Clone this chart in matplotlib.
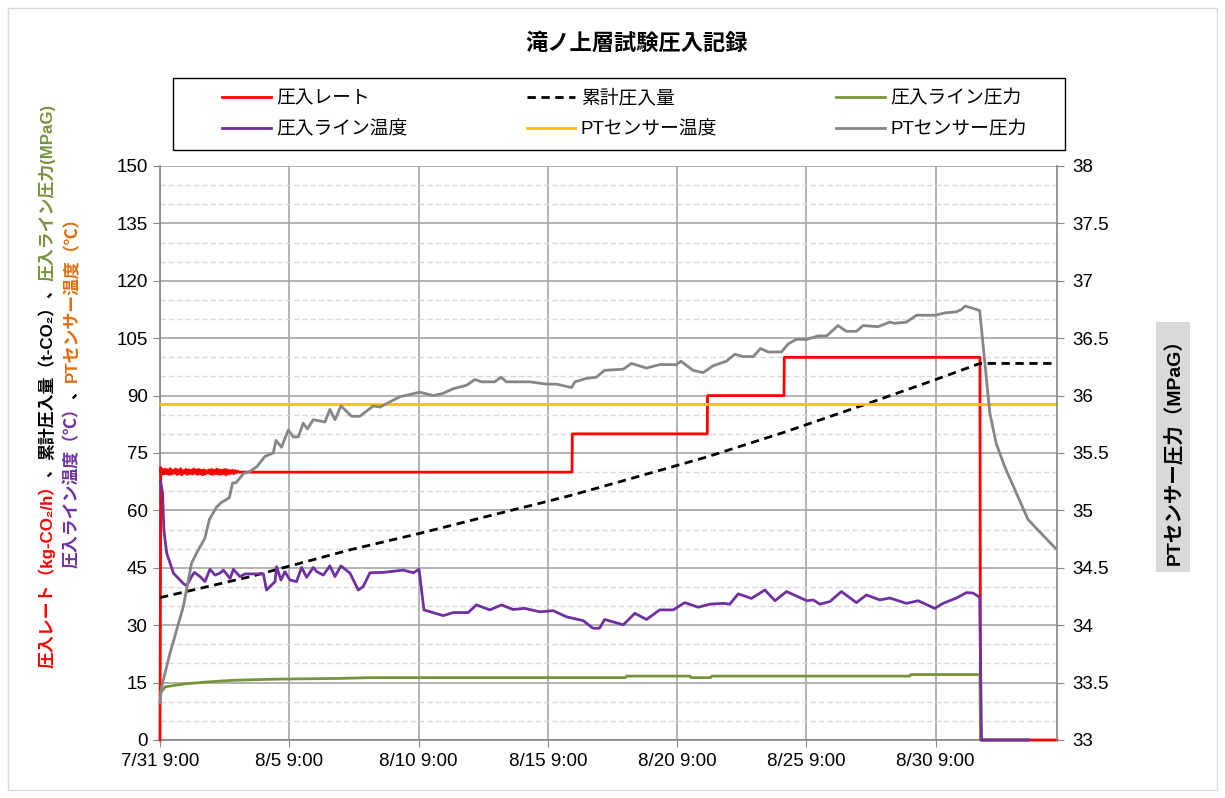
import numpy as np
import matplotlib.pyplot as plt
from matplotlib.patches import Rectangle
from matplotlib.ticker import MultipleLocator, FormatStrFormatter

plt.rcParams['font.family'] = ['Liberation Sans', 'Noto Sans CJK JP', 'DejaVu Sans']

title = "滝ノ上層試験圧入記録"
xtick_days = [0, 5, 10, 15, 20, 25, 30]
xtick_labels = ["7/31 9:00", "8/5 9:00", "8/10 9:00", "8/15 9:00",
                "8/20 9:00", "8/25 9:00", "8/30 9:00"]
x_end = 34.7

# (days since 7/31 9:00, value)
rate = [(0.0, 0), (0.03, 71.2), (0.05, 69.4), (0.1, 70.7), (0.15, 69.5), (0.2, 70.8),
        (0.25, 69.6), (0.3, 70.6), (0.35, 69.4), (0.4, 70.9), (0.45, 69.5), (0.5, 70.5),
        (0.55, 69.7), (0.6, 70.8), (0.65, 69.4), (0.7, 70.6), (0.75, 69.6), (0.8, 70.9),
        (0.85, 69.3), (0.9, 70.4), (0.95, 69.8), (1.0, 70.7), (1.05, 69.4), (1.1, 70.6),
        (1.15, 69.6), (1.2, 70.5), (1.25, 69.5), (1.3, 70.8), (1.35, 69.7), (1.4, 70.6),
        (1.45, 69.4), (1.5, 70.7), (1.55, 69.6), (1.6, 70.5), (1.65, 69.3), (1.7, 70.6),
        (1.75, 69.5), (1.8, 70.4), (1.85, 69.8), (1.9, 70.6), (1.95, 69.5), (2.0, 70.7),
        (2.05, 69.4), (2.1, 70.5), (2.15, 69.6), (2.2, 70.8), (2.25, 69.5), (2.3, 70.6),
        (2.35, 69.4), (2.4, 70.5), (2.45, 69.6), (2.5, 70.7), (2.55, 69.3), (2.6, 70.6),
        (2.65, 69.5), (2.7, 70.4), (2.75, 69.7), (2.8, 70.5), (2.85, 69.6), (2.9, 70.4),
        (2.95, 69.8), (3.0, 70.3), (3.05, 70.0), (15.94, 70), (15.95, 80), (21.17, 80),
        (21.18, 90), (24.14, 90), (24.15, 100), (31.72, 100), (31.74, 0), (34.7, 0)]

cumulative = [(0, 37.2), (3.5, 42.7), (7.35, 49.7), (10.05, 54.0), (12.63, 58.4),
              (14.95, 62.3), (15.94, 64.0), (17.79, 67.5), (21.17, 74.0), (24.14, 80.4),
              (27.58, 88.4), (29.97, 94.1), (31.72, 98.4), (34.7, 98.4)]

line_press = [(0.02, 12.5), (0.1, 13.0), (0.2, 13.9), (0.5, 14.2), (1.0, 14.7), (1.9, 15.2),
              (2.8, 15.6), (4.5, 15.9), (7.0, 16.1), (8.2, 16.3), (18.0, 16.3), (18.05, 16.7),
              (20.5, 16.7), (20.55, 16.3), (21.3, 16.3), (21.35, 16.7), (29.0, 16.7),
              (29.05, 17.1), (31.72, 17.1), (31.74, 0), (33.6, 0)]

line_temp = [(0.02, 67.5), (0.10, 64.5), (0.15, 54.9), (0.26, 48.8), (0.52, 43.6), (0.90, 40.9),
             (1.03, 40.3), (1.22, 42.7), (1.33, 43.8), (1.55, 42.7), (1.74, 41.4), (1.93, 44.6),
             (2.13, 43.1), (2.32, 43.6), (2.45, 44.4), (2.71, 42.2), (2.84, 44.6), (3.09, 42.7),
             (3.29, 43.4), (4.0, 43.4), (4.12, 39.2), (4.45, 41.4), (4.51, 45.3), (4.68, 41.8),
             (4.83, 44.0), (5.03, 41.8), (5.28, 41.4), (5.48, 45.1), (5.67, 42.5), (5.93, 45.1),
             (6.06, 44.0), (6.32, 43.1), (6.57, 45.5), (6.77, 42.7), (7.0, 45.5), (7.35, 43.6),
             (7.67, 39.2), (7.86, 40.1), (8.12, 43.7), (8.64, 43.8), (9.41, 44.4), (9.80, 43.7),
             (10.02, 44.6), (10.21, 34.0), (10.96, 32.5), (11.34, 33.3), (11.92, 33.3),
             (12.24, 35.3), (12.76, 34.0), (13.21, 35.3), (13.66, 34.1), (14.11, 34.4),
             (14.69, 33.5), (15.21, 33.8), (15.72, 32.2), (16.37, 31.2), (16.75, 29.2),
             (17.0, 29.2), (17.2, 31.5), (17.92, 30.1), (18.37, 33.1), (18.82, 31.5),
             (19.33, 34.0), (19.85, 34.0), (20.3, 35.9), (20.82, 34.7), (21.27, 35.5),
             (21.79, 35.7), (22.04, 35.5), (22.37, 38.2), (22.88, 37.0), (23.4, 39.2),
             (23.79, 36.4), (24.24, 38.8), (25.02, 36.4), (25.27, 36.6), (25.53, 35.5),
             (25.92, 36.2), (26.36, 38.8), (26.94, 35.9), (27.33, 37.9), (27.85, 36.6),
             (28.23, 37.1), (28.88, 35.7), (29.33, 36.4), (29.97, 34.4), (30.29, 35.7),
             (30.81, 37.1), (31.19, 38.5), (31.45, 38.4), (31.71, 37.3), (31.78, 0), (33.6, 0)]

pt_temp = [(0, 87.8), (34.65, 87.8)]

# PT sensor pressure, MPaG (right axis)
pt_press = [(0.0, 33.32), (0.06, 33.46), (0.39, 33.76), (0.90, 34.16), (1.22, 34.54),
            (1.42, 34.63), (1.74, 34.76), (1.91, 34.92), (2.19, 35.03), (2.38, 35.07),
            (2.68, 35.11), (2.81, 35.24), (2.94, 35.24), (3.22, 35.32), (3.48, 35.34),
            (3.74, 35.38), (4.06, 35.47), (4.38, 35.50), (4.49, 35.61), (4.70, 35.55),
            (4.96, 35.70), (5.16, 35.64), (5.35, 35.64), (5.54, 35.76), (5.70, 35.71),
            (5.93, 35.79), (6.38, 35.77), (6.57, 35.88), (6.77, 35.79), (7.0, 35.91),
            (7.41, 35.82), (7.73, 35.82), (8.25, 35.91), (8.51, 35.90), (9.28, 35.99),
            (10.05, 36.03), (10.57, 36.00), (10.96, 36.02), (11.34, 36.06), (11.86, 36.09),
            (12.18, 36.14), (12.44, 36.12), (12.95, 36.12), (13.19, 36.16), (13.40, 36.12),
            (14.31, 36.12), (14.95, 36.10), (15.34, 36.10), (15.92, 36.07), (16.05, 36.12),
            (16.5, 36.15), (16.88, 36.16), (17.2, 36.22), (17.92, 36.23), (18.24, 36.28),
            (18.82, 36.24), (19.33, 36.27), (19.98, 36.27), (20.15, 36.30), (20.62, 36.22),
            (21.01, 36.20), (21.4, 36.26), (21.91, 36.30), (22.24, 36.36), (22.56, 36.34),
            (22.95, 36.34), (23.23, 36.41), (23.53, 36.38), (24.04, 36.38), (24.30, 36.45),
            (24.62, 36.49), (25.02, 36.49), (25.46, 36.52), (25.79, 36.52), (26.23, 36.61),
            (26.55, 36.56), (26.94, 36.56), (27.2, 36.61), (27.78, 36.60), (28.23, 36.64),
            (28.42, 36.63), (28.88, 36.64), (29.26, 36.70), (29.97, 36.70), (30.36, 36.72),
            (30.81, 36.73), (31.0, 36.75), (31.15, 36.78), (31.45, 36.76), (31.71, 36.74),
            (32.10, 35.85), (32.35, 35.58), (32.68, 35.38), (33.58, 34.92), (34.64, 34.67)]

labels = ["圧入レート", "累計圧入量", "圧入ライン圧力", "圧入ライン温度", "PTセンサー温度", "PTセンサー圧力"]
colors = ["#FF0000", "#000000", "#77933C", "#7030A0", "#FFC000", "#868686"]

fig = plt.figure(figsize=(12.25, 7.98), dpi=100)
ax = fig.add_axes([160 / 1225, 1 - 740 / 798, 897 / 1225, 574 / 798])
ax2 = ax.twinx()

handles = []
for i, data in enumerate([rate, cumulative, line_press, line_temp, pt_temp]):
    t, v = np.array(data).T
    ls = (0, (3, 2)) if i == 1 else '-'
    h, = ax.plot(t, v, color=colors[i], lw=2, ls=ls, label=labels[i], clip_on=False, zorder=3)
    handles.append(h)
t, v = np.array(pt_press).T
h, = ax2.plot(t, v, color=colors[5], lw=2, label=labels[5], clip_on=False, zorder=3)
handles.append(h)

ax.set_xlim(0, x_end)
ax.set_ylim(0, 150)
ax2.set_ylim(33, 38)
ax.set_xticks(xtick_days)
ax.set_xticklabels(xtick_labels)
ax.set_yticks(np.arange(0, 151, 15))
ax.yaxis.set_minor_locator(MultipleLocator(5))
ax2.set_yticks(np.arange(33, 38.01, 0.5))
ax2.yaxis.set_major_formatter(FormatStrFormatter('%g'))

ax.grid(True, which='major', color='#a6a6a6', lw=1.2)
ax.grid(True, which='minor', axis='y', color='#d9d9d9', lw=1, ls=(0, (4, 2)))
ax.set_axisbelow(True)
for a in (ax, ax2):
    for s in a.spines.values():
        s.set_color('#868686')
        s.set_linewidth(1.2)
        s.set_zorder(1)
    a.spines['top'].set_visible(False)
for side in ('bottom', 'left'):
    ax2.spines[side].set_visible(False)
ax.spines['right'].set_visible(False)
ax.tick_params(which='major', length=5, color='#868686', labelsize=13.5, pad=4)
ax.tick_params(which='minor', length=0)
ax2.tick_params(length=5, color='#868686', labelsize=13.5, pad=6)

fig.suptitle(title, x=637 / 1225, y=1 - 43 / 798, va='center', fontsize=16, fontweight='bold',
             family=['Noto Sans CJK JP'])

order = [0, 3, 1, 4, 2, 5]
leg = fig.legend([handles[i] for i in order], [labels[i] for i in order], ncol=3,
                 loc='center', bbox_to_anchor=(222 / 1225, 1 - 150 / 798, 805 / 1225, 72 / 798),
                 mode='expand', fontsize=13.5, handlelength=2.6, handletextpad=0.3,
                 borderaxespad=0, borderpad=0, labelspacing=0.75, frameon=False)
fig.patches.append(Rectangle((173 / 1225, 1 - 150 / 798), 892 / 1225, 72 / 798,
                             transform=fig.transFigure, fill=False, edgecolor='black', lw=1))


def stacked_label(x, y, parts, size):
    prev = None
    for s, c in parts:
        kw = dict(color=c, rotation=90, ha='center', va='bottom', fontsize=size,
                  fontweight='bold', annotation_clip=False)
        if prev is None:
            prev = ax.annotate(s, xy=(x, y), xycoords='figure pixels', **kw)
        else:
            prev = ax.annotate(s, xy=(0.5, 1), xycoords=prev, **kw)


stacked_label(47, 798 - 668, [("圧入レート（kg-CO₂/h）", "#FF0000"), ("、", "black"),
                              ("累計圧入量（t-CO₂）", "black"), ("、", "black"),
                              ("圧入ライン圧力(MPaG)", "#77933C")], 12.2)
stacked_label(72, 798 - 568, [("圧入ライン温度（℃）", "#7030A0"), ("、", "black"),
                              ("PTセンサー温度（℃）", "#E46C0A")], 12.2)

fig.text(1173 / 1225, 1 - 447 / 798, "PTセンサー圧力（MPaG）", rotation=90, ha='center',
         va='center', fontsize=14, fontweight='bold',
         bbox=dict(facecolor='#d9d9d9', edgecolor='none', pad=5))

fig.patches.append(Rectangle((8 / 1225, 8 / 798), 1209 / 1225, 782 / 798,
                             transform=fig.transFigure, fill=False, edgecolor='#d9d9d9', lw=1))

fig.savefig("out.png", dpi=100)
